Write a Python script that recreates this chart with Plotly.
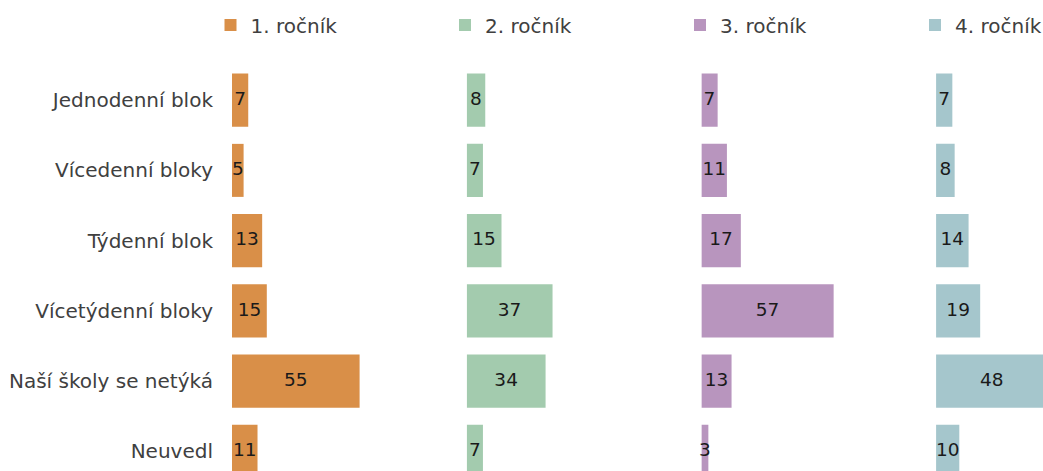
import plotly.graph_objects as go

categories = ["Jednodenní blok", "Vícedenní bloky", "Týdenní blok",
              "Vícetýdenní bloky", "Naší školy se netýká", "Neuvedl"]
series_names = ["1. ročník", "2. ročník", "3. ročník", "4. ročník"]
rocnik1 = [7, 5, 13, 15, 55, 11]
rocnik2 = [8, 7, 15, 37, 34, 7]
rocnik3 = [7, 11, 17, 57, 13, 3]
rocnik4 = [7, 8, 14, 19, 48, 10]
series_values = [rocnik1, rocnik2, rocnik3, rocnik4]
colors = ["#D98F48", "#A3CBAE", "#B895BE", "#A5C6CC"]

W, H = 1043, 471
ML, MT = 232, 65
PW = W - ML
PH = H - MT
STEP = 234.7
PXU = 2.32
ROW = 70.25
LEGEND_TEXT_X = [250.5, 485, 720, 955]

FONT = "DejaVu Sans, Verdana, sans-serif"

fig = go.Figure()
layout_extra = {}
for i, (name, vals, col) in enumerate(zip(series_names, series_values, colors)):
    xa = "x" if i == 0 else f"x{i+1}"
    lg = "legend" if i == 0 else f"legend{i+1}"
    x0 = i * STEP
    x1 = min(x0 + STEP - 0.7, PW)
    dom = [x0 / PW, x1 / PW]
    rng = [0, (x1 - x0) / PXU]
    fig.add_trace(go.Bar(
        x=vals, y=categories, orientation="h", name=name,
        marker=dict(color=col, line=dict(width=0)),
        xaxis=xa, yaxis="y", showlegend=True, legend=lg,
    ))
    fig.add_trace(go.Scatter(
        x=[v / 2 for v in vals], y=categories, mode="text",
        text=[str(v) for v in vals],
        textfont=dict(family=FONT, size=18.5, color="#1a1a1a"),
        xaxis=xa, yaxis="y", showlegend=False, hoverinfo="skip",
        cliponaxis=False,
    ))
    key = "xaxis" if i == 0 else f"xaxis{i+1}"
    layout_extra[key] = dict(domain=dom, range=rng, visible=False,
                             anchor="y", fixedrange=True, automargin=False)
    layout_extra[lg] = dict(
        orientation="h", x=(LEGEND_TEXT_X[i] - 40 - ML) / PW, xanchor="left",
        y=1 + (MT - 25) / PH, yanchor="middle",
        font=dict(family=FONT, size=20, color="#404040"),
        bgcolor="rgba(0,0,0,0)", borderwidth=0, itemwidth=30,
    )

fig.update_layout(
    width=W, height=H,
    margin=dict(l=ML, r=0, t=MT, b=0, pad=0, autoexpand=False),
    paper_bgcolor="white", plot_bgcolor="white",
    bargap=0.245,
    font=dict(family=FONT, size=20, color="#404040"),
    yaxis=dict(
        type="category", categoryorder="array", categoryarray=categories,
        range=[-0.5 + PH / ROW, -0.5], showgrid=False, zeroline=False, showline=False,
        ticks="", ticklabelstandoff=18, anchor="x", automargin=False,
        fixedrange=True,
        tickfont=dict(family=FONT, size=20, color="#404040"),
    ),
    **layout_extra,
)

fig.write_html(
    "out.html",
    config={"displayModeBar": False},
    post_script="document.body.style.margin='0';document.body.style.overflow='hidden';",
)
